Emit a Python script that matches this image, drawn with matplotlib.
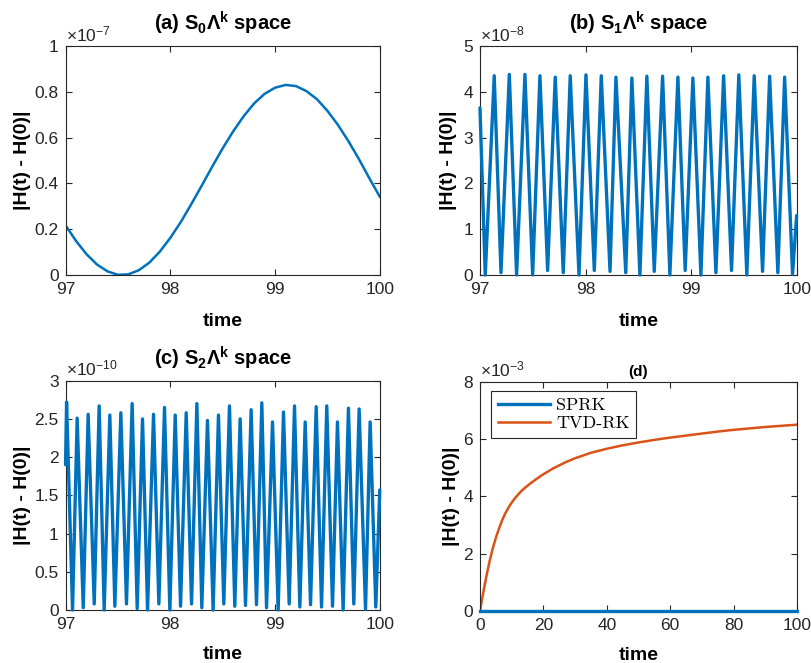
import numpy as np
import matplotlib
matplotlib.use('Agg')
import matplotlib.pyplot as plt
from matplotlib.ticker import FuncFormatter, MultipleLocator

plt.rcParams['font.family'] = 'Liberation Sans'
plt.rcParams['mathtext.fontset'] = 'custom'
plt.rcParams['mathtext.rm'] = 'Liberation Sans'
plt.rcParams['mathtext.bf'] = 'Liberation Sans:bold'
plt.rcParams['mathtext.it'] = 'Liberation Sans:italic'

AZUL = '#0072BD'
LARANJA = '#D95319'
CINZA = '#262626'

# (a) S0 Λ^k  -- energia ao longo de t em [97, 100], unidades de 1e-7
t_a = [97.0, 97.1, 97.2, 97.3, 97.4, 97.5, 97.6, 97.7, 97.8, 97.9, 98.0,
       98.1, 98.2, 98.3, 98.4, 98.5, 98.6, 98.7, 98.8, 98.9, 99.0,
       99.1, 99.2, 99.3, 99.4, 99.5, 99.6, 99.7, 99.8, 99.9, 100.0]
h_a = [0.217, 0.149, 0.091, 0.046, 0.016, 0.001, 0.003, 0.021, 0.054, 0.102, 0.162,
       0.231, 0.309, 0.390, 0.473, 0.553, 0.627, 0.693, 0.749, 0.791, 0.818,
       0.830, 0.825, 0.803, 0.768, 0.717, 0.656, 0.585, 0.507, 0.423, 0.342]

# (b) S1 Λ^k  -- picos e vales, unidades de 1e-8
t_ini_b, h_ini_b = 97.0, 3.65
t_fim_b, h_fim_b = 100.0, 1.3
t_picos_b = [97.135, 97.278, 97.426, 97.568, 97.713, 97.855, 98.004, 98.149, 98.288, 98.439,
             98.581, 98.730, 98.875, 99.017, 99.159, 99.308, 99.452, 99.598, 99.744, 99.886]
h_picos_b = [4.35, 4.38, 4.38, 4.35, 4.32, 4.35, 4.37, 4.35, 4.32, 4.30,
             4.34, 4.34, 4.32, 4.30, 4.32, 4.35, 4.37, 4.35, 4.34, 4.32]
t_vales_b = [97.050, 97.199, 97.347, 97.499, 97.641, 97.789, 97.938, 98.083, 98.232, 98.381,
             98.515, 98.651, 98.799, 98.944, 99.093, 99.235, 99.383, 99.528, 99.677, 99.822,
             99.961]
h_vales_b = [0.0, 0.05, 0.0, 0.0, 0.1, 0.05, 0.0, 0.1, 0.08, 0.05,
             0.0, 0.08, 0.0, 0.1, 0.0, 0.05, 0.1, 0.0, 0.08, 0.05,
             0.02]

# (c) S2 Λ^k  -- picos e vales, unidades de 1e-10
t_ini_c, h_ini_c = 97.0, 1.9
t_fim_c, h_fim_c = 100.0, 1.57
t_picos_c = [97.010, 97.111, 97.216, 97.321, 97.423, 97.528, 97.636, 97.735, 97.840, 97.945,
             98.047, 98.152, 98.254, 98.355, 98.460, 98.565, 98.667, 98.772, 98.874, 98.976,
             99.081, 99.186, 99.288, 99.393, 99.494, 99.596, 99.701, 99.803, 99.908]
h_picos_c = [2.72, 2.51, 2.56, 2.67, 2.55, 2.58, 2.70, 2.50, 2.56, 2.65,
             2.55, 2.58, 2.70, 2.48, 2.55, 2.67, 2.50, 2.62, 2.71, 2.46,
             2.59, 2.67, 2.46, 2.66, 2.67, 2.46, 2.64, 2.63, 2.46]
t_vales_c = [97.067, 97.169, 97.274, 97.369, 97.471, 97.582, 97.684, 97.783, 97.891, 97.996,
             98.098, 98.203, 98.301, 98.409, 98.511, 98.616, 98.718, 98.823, 98.919, 99.030,
             99.135, 99.237, 99.339, 99.444, 99.549, 99.650, 99.752, 99.864, 99.962]
h_vales_c = [0.0, 0.03, 0.08, 0.0, 0.05, 0.08, 0.02, 0.0, 0.08, 0.0,
             0.05, 0.08, 0.03, 0.0, 0.08, 0.05, 0.06, 0.07, 0.03, 0.0,
             0.08, 0.04, 0.07, 0.04, 0.05, 0.0, 0.08, 0.01, 0.04]

# (d) comparação SPRK x TVD-RK em t em [0, 100], unidades de 1e-3
t_d = [0, 1, 2, 3, 4, 5, 6, 7, 8, 9, 10, 11, 12, 13, 14, 16, 18, 20, 23, 27, 30, 35, 40,
       45, 50, 55, 60, 65, 70, 75, 80, 85, 90, 95, 100]
h_tvd = [0, 0.62, 1.2, 1.72, 2.17, 2.55, 2.88, 3.17, 3.41, 3.61, 3.78, 3.93, 4.06, 4.18,
         4.28, 4.46, 4.62, 4.77, 4.97, 5.19, 5.33, 5.52, 5.66, 5.78, 5.88, 5.97, 6.05,
         6.12, 6.19, 6.26, 6.32, 6.37, 6.42, 6.46, 6.5]
h_sprk = [0] * len(t_d)


def junta_pontos(t0, h0, tp, hp, tv, hv, t1, h1):
    # ordena início, picos, vales e fim numa única série
    t = np.array([t0] + tp + tv + [t1])
    h = np.array([h0] + hp + hv + [h1])
    ordem = np.argsort(t)
    return t[ordem], h[ordem]


def formata_eixo(ax, escala, expoente, yticks_passo, ylim, xlim, xticks_passo, xlab_y, ylab_x):
    ax.set_xlim(*xlim)
    ax.set_ylim(0, ylim * escala)
    ax.xaxis.set_major_locator(MultipleLocator(xticks_passo))
    ax.yaxis.set_major_locator(MultipleLocator(yticks_passo * escala))
    ax.yaxis.set_major_formatter(FuncFormatter(lambda v, p: f'{v / escala:g}'))
    ax.xaxis.set_major_formatter(FuncFormatter(lambda v, p: f'{v:g}'))
    ax.tick_params(direction='in', length=4, width=0.8, top=True, right=True,
                   labelsize=12.5, colors=CINZA, pad=5)
    for s in ax.spines.values():
        s.set_color(CINZA)
        s.set_linewidth(0.8)
    ax.text(0.0, 1.008, r'$\times10^{%d}$' % expoente, transform=ax.transAxes,
            ha='left', va='bottom', fontsize=12.5, color=CINZA)
    ax.set_xlabel('time', fontsize=14, fontweight='bold', color='black')
    ax.set_ylabel('|H(t) - H(0)|', fontsize=14, fontweight='bold', color='black')
    ax.xaxis.set_label_coords(0.5, xlab_y)
    ax.yaxis.set_label_coords(ylab_x, 0.5)


fig = plt.figure(figsize=(8.12, 6.63), dpi=100)

ax_a = fig.add_axes([0.0807, 0.5852, 0.3870, 0.3454])
ax_b = fig.add_axes([0.5911, 0.5852, 0.3900, 0.3454])
ax_c = fig.add_axes([0.0807, 0.0799, 0.3870, 0.3459])
ax_d = fig.add_axes([0.5911, 0.0784, 0.3904, 0.3459])

estilo_osc = dict(color=AZUL, lw=2.4, clip_on=False, zorder=3,
                  solid_joinstyle='round', solid_capstyle='round')

# (a)
ax_a.plot(t_a, np.array(h_a) * 1e-7, color=AZUL, lw=1.8, solid_joinstyle='round')
formata_eixo(ax_a, 1e-7, -7, 0.2, 1, (97, 100), 1, -0.165, -0.11)
ax_a.set_title(r'(a) $\mathbf{S_0\Lambda^k}$ space', fontsize=14.5, fontweight='bold', pad=11)

# (b)
tb, hb = junta_pontos(t_ini_b, h_ini_b, t_picos_b, h_picos_b, t_vales_b, h_vales_b,
                      t_fim_b, h_fim_b)
ax_b.plot(tb, hb * 1e-8, **estilo_osc)
formata_eixo(ax_b, 1e-8, -8, 1, 5, (97, 100), 1, -0.165, -0.073)
ax_b.set_title(r'(b) $\mathbf{S_1\Lambda^k}$ space', fontsize=14.5, fontweight='bold', pad=11)

# (c)
tc, hc = junta_pontos(t_ini_c, h_ini_c, t_picos_c, h_picos_c, t_vales_c, h_vales_c,
                      t_fim_c, h_fim_c)
ax_c.plot(tc, hc * 1e-10, **estilo_osc)
formata_eixo(ax_c, 1e-10, -10, 0.5, 3, (97, 100), 1, -0.155, -0.11)
ax_c.set_title(r'(c) $\mathbf{S_2\Lambda^k}$ space', fontsize=14.5, fontweight='bold', pad=11)

# (d)
ax_d.plot(t_d, np.array(h_sprk) * 1e-3, color=AZUL, lw=2.4, clip_on=False, zorder=3,
          label='SPRK')
ax_d.plot(t_d, np.array(h_tvd) * 1e-3, color=LARANJA, lw=1.8, solid_joinstyle='round',
          label='TVD-RK')
formata_eixo(ax_d, 1e-3, -3, 2, 8, (0, 100), 20, -0.155, -0.063)
ax_d.set_title('(d)', fontsize=11, fontweight='bold', pad=4)
leg = ax_d.legend(loc='upper left', bbox_to_anchor=(0.0356, 0.9594), borderaxespad=0,
                  prop={'family': 'cmr10', 'size': 13}, handlelength=2.9,
                  handletextpad=0.35, labelspacing=0.15, borderpad=0.35,
                  fancybox=False, framealpha=1)
leg.get_frame().set_edgecolor(CINZA)
leg.get_frame().set_linewidth(0.8)

fig.savefig('out.png', dpi=100)
